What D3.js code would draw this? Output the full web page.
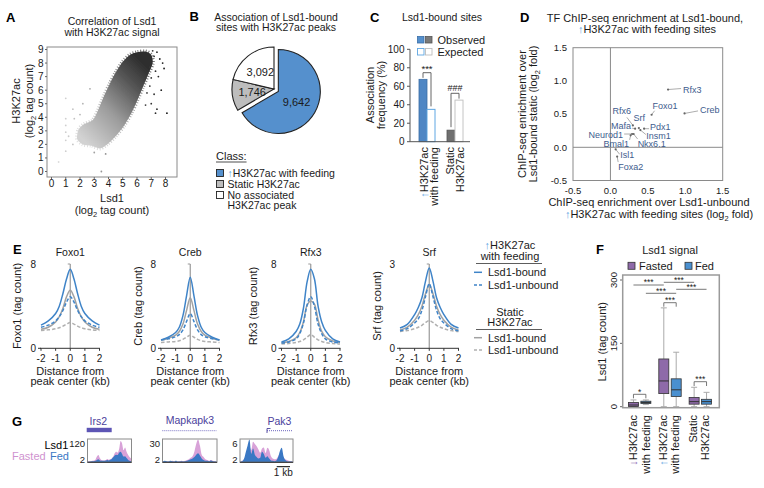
<!DOCTYPE html>
<html><head><meta charset="utf-8">
<script src="https://cdn.jsdelivr.net/npm/d3@7/dist/d3.min.js"></script>
<style>html,body{margin:0;padding:0;background:#fff;}</style>
</head><body>
<script>
// ================= DATA =================
// Panel A: outline of the dense point cloud (Lsd1 log2, H3K27ac log2) + sparse points
const cloudLsd1    = [1.8,1.9,2.3,2.9,3.3,3.7,4.1,4.5,5.0,5.5,6.0,6.6,7.0,7.1,6.8,6.4,6.0,5.6,5.1,4.5,3.9,3.4,2.8,2.2];
const cloudH3K27ac = [2.4,3.1,3.5,3.8,4.6,5.6,6.5,7.3,8.1,8.6,8.8,8.85,8.6,8.0,7.2,6.2,5.2,4.3,3.4,2.6,2.0,1.7,1.9,2.0];
const sparseLsd1    = [7.4,7.6,7.2,7.9,7.3,7.5,7.0,7.7,7.2,7.0,7.4,7.3,8.1,6.7,6.9,1.0,1.0,1.0,1.0,1.0,1.0,0.5,1.5,1.6,3.5,2.2,2.7,3.0,3.8,1.5,2.0,1.2,7.1,6.6,7.8,6.9];
const sparseH3K27ac = [8.8,8.3,8.5,7.6,7.4,7.0,6.9,6.0,5.7,5.0,4.6,4.3,4.3,5.8,6.3,5.4,3.9,3.4,2.9,2.3,1.5,0.7,4.6,3.9,0.0,5.0,6.1,1.4,1.3,2.0,4.2,2.6,8.9,4.9,8.0,7.7];
const aXTicks = [0,1,2,3,4,5,6,7,8];
const aYTicks = [0,1,2,3,4,5,6,7,8,9];

// Panel B
const pieClasses = ["H3K27ac with feeding","Static H3K27ac","No associated H3K27ac peak"];
const pieCounts  = [9642,1746,3092];
const pieLabels  = ["9,642","1,746","3,092"];

// Panel C
const cGroups   = ["up","static"];
const cObserved = [67.5,12.5];
const cExpected = [35,45];
const cTicks    = [0,20,40,60,80,100];

// Panel D
const tfNames    = ["Rfx3","Creb","Foxo1","Rfx6","Srf","Mafa","Pdx1","Insm1","Neurod1","Nkx6.1","Bmal1","Isl1","Foxa2"];
const tfUnbound  = [0.77,0.99,0.55,0.30,0.38,0.33,0.45,0.40,0.29,0.31,0.27,0.07,0.09];
const tfStatic   = [0.87,0.51,0.49,0.33,0.29,0.28,0.28,0.26,0.20,0.20,0.18,-0.03,-0.14];
const dTicks     = [-0.5,0,0.5,1,1.5];

// Panel E
const eDistanceKb = [-2,-1.5,-1,-0.75,-0.5,-0.25,0,0.25,0.5,0.75,1,1.5,2];
const eFactors = ["Foxo1","Creb","Rfx3","Srf"];
const eYMax    = [8,8,8,3];
const foxo1UpBound      = [2.2,2.6,3.3,4.0,5.2,6.6,7.5,6.6,5.2,4.0,3.3,2.6,2.2];
const foxo1UpUnbound    = [2.0,2.2,2.6,3.0,3.6,4.4,4.9,4.4,3.6,3.0,2.6,2.2,2.0];
const foxo1StaticBound  = [1.8,2.0,2.5,3.0,3.8,4.9,5.5,4.9,3.8,3.0,2.5,2.0,1.8];
const foxo1StaticUnbound= [1.7,1.75,1.85,1.95,2.1,2.3,2.45,2.3,2.1,1.95,1.85,1.75,1.7];
const crebUpBound       = [0.8,1.05,1.5,2.0,3.1,5.0,6.75,5.0,3.1,2.0,1.5,1.05,0.8];
const crebUpUnbound     = [0.8,0.9,1.1,1.3,1.75,2.55,3.3,2.55,1.75,1.3,1.1,0.9,0.8];
const crebStaticBound   = [0.75,0.95,1.25,1.6,2.3,3.6,4.8,3.6,2.3,1.6,1.25,0.95,0.75];
const crebStaticUnbound = [0.55,0.6,0.65,0.72,0.85,1.05,1.25,1.05,0.85,0.72,0.65,0.6,0.55];
const rfx3UpBound       = [0.6,0.9,1.6,2.3,3.8,6.3,7.5,6.6,4.0,2.5,1.7,0.9,0.6];
const rfx3UpUnbound     = [0.5,0.6,0.9,1.4,2.4,4.1,4.9,4.0,2.3,1.4,0.9,0.6,0.5];
const rfx3StaticBound   = [0.5,0.65,1.0,1.5,2.5,4.1,4.5,4.2,2.7,1.6,1.1,0.7,0.55];
const rfx3StaticUnbound = [0.4,0.45,0.55,0.65,0.8,1.05,1.3,1.05,0.8,0.65,0.55,0.45,0.4];
const srfUpBound        = [0.72,0.85,1.2,1.45,1.8,2.4,2.86,2.4,1.8,1.45,1.2,0.85,0.72];
const srfUpUnbound      = [0.62,0.7,0.9,1.05,1.35,1.85,2.3,1.85,1.35,1.05,0.9,0.7,0.62];
const srfStaticBound    = [0.65,0.75,1.0,1.2,1.5,1.95,2.26,1.95,1.5,1.2,1.0,0.75,0.65];
const srfStaticUnbound  = [0.6,0.63,0.7,0.75,0.82,0.92,0.98,0.92,0.82,0.75,0.7,0.63,0.6];
const eXTicks = [-2,-1,0,1,2];

// Panel F: [min, q1, median, q3, max]
const fGroups = ["down","up","static"];
const fFasted = [[0,0.5,4,10,16],[0,31,61,113,234],[0,6,12,22,46]];
const fFed    = [[5,7.5,10,13,16],[0,24,40,66,129],[0,6,12,17.5,34]];
const fTicks  = [0,150,300];

// Panel G: signal tracks (tag count)
const gGenes = ["Irs2","Mapkapk3","Pak3"];
const gMax   = [120,30,6];
const irs2Fasted = [4,5,6,8,10,14,30,38,22,12,10,10,12,18,14,16,20,30,48,56,52,70,112,98,64,78,56,40,28,20];
const irs2Fed    = [3,3,4,5,6,8,12,16,10,8,8,8,10,12,10,14,18,26,36,40,38,50,56,44,30,32,22,14,8,5];
const mapkFasted = [1,1,1,1.5,1,2,1.5,1,1,1.5,2,1.5,2,3,4,6,8,14,24,30,22,10,7,4,3,2,3,2,1.5,1];
const mapkFed    = [1,2,1.5,1,2,1.5,1,2,1,1,1.5,1,1.5,2,3,4,5,7,10,12,9,5,3,2,2,1.5,2.5,1.5,1,1];
const pak3Fasted = [0.3,0.4,0.8,1.5,2.8,4.0,3.2,5.4,4.8,4.2,3.4,2.5,3.6,3.9,2.4,3.8,3.2,1.6,1.0,0.8,0.9,1.6,2.2,1.8,1.2,0.8,0.6,0.4,0.3,0.3];
const pak3Fed    = [0.2,0.3,1.0,2.8,4.5,6.0,2.2,3.6,2.0,1.4,1.0,1.2,2.8,2.2,1.2,1.6,1.0,0.5,0.4,0.3,0.5,1.4,3.0,3.8,1.6,0.6,0.3,0.2,0.2,0.2];

// ================= DRAW =================
const FONT = "'Liberation Sans', Arial, Helvetica, sans-serif";
const BLUE = "#5590cd", LBLUE = "#5ea6e2", LINEBLUE = "#3f84c8", PURPLE = "#8e6aa9";
const svg = d3.select("body").append("svg").attr("width",764).attr("height",488).attr("font-family",FONT);
svg.append("rect").attr("width",764).attr("height",488).attr("fill","#fff");
const defs = svg.append("defs");

function text(g,x,y,str,o){o=o||{};const t=g.append("text").attr("x",x).attr("y",y)
  .attr("font-size",o.size||11).attr("fill",o.fill||"#1a1a1a").attr("text-anchor",o.anchor||"start");
  if(o.bold)t.attr("font-weight","bold");
  if(o.rot!=null)t.attr("transform",`rotate(${o.rot} ${x} ${y})`);
  if(o.dy)t.attr("dy",o.dy);
  if(str!=null)t.text(str);return t;}
function rich(g,x,y,parts,o){o=o||{};const t=text(g,x,y,null,o);const fs=o.size||11;let sh=false;
  parts.forEach(p=>{const s=t.append("tspan").text(p.t);if(p.fill)s.attr("fill",p.fill);
    if(p.sub){s.attr("font-size",fs*0.68).attr("dy",fs*0.28);sh=true;}
    else if(sh){s.attr("dy",-fs*0.28);sh=false;}});return t;}
function panelLetter(x,y,l){text(svg,x,y,l,{size:13,bold:true,fill:"#000"});}

// ---------- Panel A ----------
panelLetter(6,21.5,"A");
const gA = svg.append("g");
text(gA,112,25,"Correlation of Lsd1",{size:10.5,anchor:"middle"});
text(gA,112,35.5,"with H3K27ac signal",{size:10.5,anchor:"middle"});
const xA = d3.scaleLinear().domain([0,8]).range([51.5,165.5]);
const yA = d3.scaleLinear().domain([0,9]).range([171.5,49.5]);
const grad = defs.append("linearGradient").attr("id","cloudGrad").attr("gradientUnits","userSpaceOnUse")
  .attr("x1",xA(2)).attr("y1",yA(2.6)).attr("x2",xA(6.8)).attr("y2",yA(7.6));
[["0","#d2d2d2"],["0.4","#9c9c9c"],["0.75","#575757"],["1","#2e2e2e"]].forEach(s=>grad.append("stop").attr("offset",s[0]).attr("stop-color",s[1]));
defs.append("filter").attr("id","soft").append("feGaussianBlur").attr("stdDeviation",0.45);
const cloudPts = cloudLsd1.map((v,i)=>[v,cloudH3K27ac[i]]);
const cloudPath = d3.line().x(d=>xA(d[0])).y(d=>yA(d[1])).curve(d3.curveCardinalClosed.tension(0.2))(cloudPts);
gA.append("path").attr("d",cloudPath).attr("fill","none").attr("stroke","url(#cloudGrad)")
  .attr("stroke-width",4).attr("stroke-dasharray","0.9,1.7").attr("opacity",0.7);
gA.append("path").attr("d",cloudPath).attr("fill","url(#cloudGrad)").attr("filter","url(#soft)");
const shade = d3.scaleLinear().domain([1,4,7.5]).range(["#cfcfcf","#8a8a8a","#262626"]);
gA.selectAll(".sp").data(sparseLsd1.map((v,i)=>[v,sparseH3K27ac[i]])).enter().append("circle")
  .attr("cx",d=>xA(d[0])).attr("cy",d=>yA(d[1])).attr("r",0.9).attr("fill",d=>shade(d[0]));
gA.append("rect").attr("x",47).attr("y",47).attr("width",130).attr("height",130).attr("fill","none").attr("stroke","#8a8a8a").attr("stroke-width",1);
aXTicks.forEach(t=>{gA.append("line").attr("x1",xA(t)).attr("x2",xA(t)).attr("y1",177).attr("y2",179).attr("stroke","#666");
  text(gA,xA(t),186.5,t,{size:10,anchor:"middle"});});
aYTicks.forEach(t=>{gA.append("line").attr("x1",45).attr("x2",47).attr("y1",yA(t)).attr("y2",yA(t)).attr("stroke","#666");
  text(gA,43.5,yA(t),t,{size:10,anchor:"end",dy:"0.35em"});});
text(gA,112,202,"Lsd1",{size:11,anchor:"middle"});
rich(gA,112,214,[{t:"(log"},{t:"2",sub:true},{t:" tag count)"}],{size:11,anchor:"middle"});
text(gA,16,101,"H3K27ac",{size:11,anchor:"middle",rot:-90,dy:"0.35em"});
rich(gA,29,101,[{t:"(log"},{t:"2",sub:true},{t:" tag count)"}],{size:11,anchor:"middle",rot:-90,dy:"0.35em"});

// ---------- Panel B ----------
panelLetter(189.5,21,"B");
const gB = svg.append("g");
text(gB,276,21,"Association of Lsd1-bound",{size:10.5,anchor:"middle"});
text(gB,276,31,"sites with H3K27ac peaks",{size:10.5,anchor:"middle"});
const pieColors = [BLUE,"#bdbdbd","#ffffff"];
const pieExplode = [5,0,0];
const arcs = d3.pie().sort(null).value(d=>d)(pieCounts);
const arcB = d3.arc().innerRadius(0).outerRadius(42);
const cB = [274,89];
arcs.forEach((a,i)=>{const mid=(a.startAngle+a.endAngle)/2;
  const ox=cB[0]+pieExplode[i]*Math.sin(mid), oy=cB[1]-pieExplode[i]*Math.cos(mid);
  const g=gB.append("g").attr("transform",`translate(${ox},${oy})`);
  g.append("path").attr("d",arcB(a)).attr("fill",pieColors[i]).attr("stroke","#222").attr("stroke-width",1.1);
  const c=arcB.centroid(a);
  text(g,c[0]*(i===0?1.0:1.05),c[1],pieLabels[i],{size:11,anchor:"middle",dy:"0.35em"});
});
const classT = text(gB,216,160,"Class:",{size:11});
gB.append("line").attr("x1",216).attr("x2",216+classT.node().getComputedTextLength()).attr("y1",162).attr("y2",162).attr("stroke","#222").attr("stroke-width",0.8);
const legRowY = [173,184,195];
pieClasses.forEach((c,i)=>{
  gB.append("rect").attr("x",216.5).attr("y",legRowY[i]-3.5).attr("width",7).attr("height",7).attr("fill",pieColors[i]).attr("stroke","#222").attr("stroke-width",0.9);
  if(i===0) rich(gB,227.5,legRowY[i]+4,[{t:"↑",fill:LBLUE},{t:c}],{size:10.5});
  else if(i===1) text(gB,227.5,legRowY[i]+4,c,{size:10.5});
  else {text(gB,227.5,legRowY[i]+4,"No associated",{size:10.5});text(gB,227.5,legRowY[i]+14,"H3K27ac peak",{size:10.5});}
});

// ---------- Panel C ----------
panelLetter(370,22,"C");
const gC = svg.append("g");
text(gC,442,21,"Lsd1-bound sites",{size:10.5,anchor:"middle"});
const yC = d3.scaleLinear().domain([0,100]).range([141.7,49.3]);
const xC = d3.scaleBand().domain(cGroups).range([413,469]).padding(0.0);
gC.append("rect").attr("x",417.5).attr("y",36.5).attr("width",6.5).attr("height",6.5).attr("fill",BLUE).attr("stroke","#3a6fa8").attr("stroke-width",0.8);
gC.append("rect").attr("x",425.5).attr("y",36.5).attr("width",6.5).attr("height",6.5).attr("fill","#7a7a7a").attr("stroke","#555").attr("stroke-width",0.8);
text(gC,437.5,44,"Observed",{size:11});
gC.append("rect").attr("x",417.5).attr("y",48.5).attr("width",6.5).attr("height",6.5).attr("fill","#fff").attr("stroke",LBLUE).attr("stroke-width",0.9);
gC.append("rect").attr("x",425.5).attr("y",48.5).attr("width",6.5).attr("height",6.5).attr("fill","#fff").attr("stroke","#bdbdbd").attr("stroke-width",0.9);
text(gC,437.5,56,"Expected",{size:11});
const barW = 8;
cGroups.forEach((g,i)=>{
  const cx = xC(g)+xC.bandwidth()/2;
  gC.append("rect").attr("x",cx-barW).attr("y",yC(cObserved[i])).attr("width",barW).attr("height",yC(0)-yC(cObserved[i]))
    .attr("fill",i===0?"#4e86c4":"#6f6f6f").attr("stroke",i===0?"#3d6ea6":"#555").attr("stroke-width",0.8);
  gC.append("rect").attr("x",cx).attr("y",yC(cExpected[i])).attr("width",barW).attr("height",yC(0)-yC(cExpected[i]))
    .attr("fill","#fff").attr("stroke",i===0?LBLUE:"#c4c4c4").attr("stroke-width",1);
});
gC.append("line").attr("x1",410).attr("x2",410).attr("y1",yC(100)).attr("y2",yC(0)).attr("stroke","#555");
gC.append("line").attr("x1",410).attr("x2",470).attr("y1",yC(0)).attr("y2",yC(0)).attr("stroke","#555");
cTicks.forEach(t=>{gC.append("line").attr("x1",407).attr("x2",410).attr("y1",yC(t)).attr("y2",yC(t)).attr("stroke","#555");
  text(gC,404.5,yC(t),t,{size:10,anchor:"end",dy:"0.35em"});});
text(gC,370,95,"Association",{size:11,anchor:"middle",rot:-90,dy:"0.35em"});
text(gC,381,95,"frequency (%)",{size:11,anchor:"middle",rot:-90,dy:"0.35em"});
{const c0=xC("up")+xC.bandwidth()/2, c1=xC("static")+xC.bandwidth()/2;
 const br=(x1,x2,y,y1,y2,col)=>gC.append("path").attr("d",`M${x1},${y1}V${y}H${x2}V${y2}`).attr("fill","none").attr("stroke",col).attr("stroke-width",0.9);
 br(c0-4,c0+4,72.7,yC(cObserved[0])-1.5,yC(cExpected[0])-3,"#555");
 text(gC,c0,72.3,"***",{size:9.5,anchor:"middle"});
 br(c1-4,c1+4,93.3,yC(cObserved[1])-3,yC(cExpected[1])-1.5,"#555");
 text(gC,c1,91.3,"###",{size:9,anchor:"middle"});
 rich(gC,c0-3,147,[{t:"↑",fill:LBLUE},{t:"H3K27ac"}],{size:11,anchor:"end",rot:-90,dy:"0.35em"});
 text(gC,c0+7,147,"with feeding",{size:11,anchor:"end",rot:-90,dy:"0.35em"});
 text(gC,c1-5,147,"Static",{size:11,anchor:"end",rot:-90,dy:"0.35em"});
 text(gC,c1+5,147,"H3K27ac",{size:11,anchor:"end",rot:-90,dy:"0.35em"});
}

// ---------- Panel D ----------
panelLetter(520,22,"D");
const gD = svg.append("g");
text(gD,645,21.5,"TF ChIP-seq enrichment at Lsd1-bound,",{size:11,anchor:"middle"});
rich(gD,647,32.5,[{t:"↑",fill:LBLUE},{t:"H3K27ac with feeding sites"}],{size:11,anchor:"middle"});
const xD = d3.scaleLinear().domain([-0.5,1.5]).range([573,722.7]);
const yD = d3.scaleLinear().domain([-0.5,1.5]).range([180.5,47.7]);
gD.append("rect").attr("x",xD(-0.5)).attr("y",yD(1.5)).attr("width",xD(1.5)-xD(-0.5)).attr("height",yD(-0.5)-yD(1.5)).attr("fill","none").attr("stroke","#8a8a8a");
gD.append("line").attr("x1",xD(0)).attr("x2",xD(0)).attr("y1",yD(1.5)).attr("y2",yD(-0.5)).attr("stroke","#8a8a8a");
gD.append("line").attr("x1",xD(-0.5)).attr("x2",xD(1.5)).attr("y1",yD(0)).attr("y2",yD(0)).attr("stroke","#8a8a8a");
dTicks.forEach(t=>{text(gD,xD(t),194,t.toFixed(1),{size:9.5,anchor:"middle"});
  text(gD,567,yD(t),t.toFixed(1),{size:9.5,anchor:"end",dy:"0.35em"});});
text(gD,649,206,"ChIP-seq enrichment over Lsd1-unbound",{size:11,anchor:"middle"});
rich(gD,659,217.5,[{t:"↑",fill:LBLUE},{t:"H3K27ac with feeding sites (log"},{t:"2",sub:true},{t:" fold)"}],{size:11,anchor:"middle"});
text(gD,521.7,114,"ChIP-seq enrichment over",{size:11,anchor:"middle",rot:-90,dy:"0.35em"});
rich(gD,533.3,114,[{t:"Lsd1-bound static (log"},{t:"2",sub:true},{t:" fold)"}],{size:11,anchor:"middle",rot:-90,dy:"0.35em"});
const tfLabelPos = {Rfx3:["start",15,3.5,13,-1],Creb:["start",15.5,0,13.5,-2.5],Foxo1:["middle",13.5,-6,3,-4],
  Rfx6:["middle",-11,-11.5,-6,-8],Srf:["middle",0.5,-7,0,0],Mafa:["end",-4,0.5,-3,-0.5],Pdx1:["start",6,1.5,5,0],
  Insm1:["start",6,8.5,5.5,4.5],Neurod1:["end",-9,3.5,-8,0],"Nkx6.1":["start",4,13,4,5],Bmal1:["end",-1.5,12,-1,4.5],
  Isl1:["start",4.5,9,4,5],Foxa2:["start",1,13,1,5.5]};
tfNames.forEach((n,i)=>{const px=xD(tfUnbound[i]),py=yD(tfStatic[i]);const p=tfLabelPos[n];
  if(p[3]||p[4]) gD.append("line").attr("x1",px).attr("y1",py).attr("x2",px+p[3]).attr("y2",py+p[4]).attr("stroke","#8a8a8a").attr("stroke-width",0.7);
  gD.append("circle").attr("cx",px).attr("cy",py).attr("r",1.1).attr("fill","#666");
  text(gD,px+p[1],py+p[2],n,{size:9,anchor:p[0],fill:"#3e5c8e"});
});

// ---------- Panel E ----------
panelLetter(13,253.5,"E");
const gE = svg.append("g");
const eSeries = [[foxo1StaticUnbound,foxo1StaticBound,foxo1UpUnbound,foxo1UpBound],
                 [crebStaticUnbound,crebStaticBound,crebUpUnbound,crebUpBound],
                 [rfx3StaticUnbound,rfx3StaticBound,rfx3UpUnbound,rfx3UpBound],
                 [srfStaticUnbound,srfStaticBound,srfUpUnbound,srfUpBound]];
const eStyles = [{c:"#b0b0b0",d:"3.5,2"},{c:"#a2a2a2",d:null},{c:LINEBLUE,d:"3.5,2"},{c:LINEBLUE,d:null}];
const eX0 = [41,161,281.5,400], eYT = [17.3,137.7,253.3,377.3];
eFactors.forEach((f,k)=>{
  const x = d3.scaleLinear().domain([-2,2]).range([eX0[k],eX0[k]+58.5]);
  const y = d3.scaleLinear().domain([0,eYMax[k]]).range([348.3,264]);
  text(gE,x(0),255.5,f,{size:10.5,anchor:"middle"});
  gE.append("line").attr("x1",x(0)).attr("x2",x(0)).attr("y1",y(0)).attr("y2",y(eYMax[k])).attr("stroke","#999").attr("stroke-width",1.2);
  gE.append("line").attr("x1",x(0)-2.5).attr("x2",x(0)).attr("y1",y(eYMax[k])).attr("y2",y(eYMax[k])).attr("stroke","#999").attr("stroke-width",1);
  eSeries[k].forEach((s,j)=>{
    gE.append("path").attr("d",d3.line().x((d,i)=>x(eDistanceKb[i])).y(d=>y(d)).curve(d3.curveCatmullRom)(s))
      .attr("fill","none").attr("stroke",eStyles[j].c).attr("stroke-width",1.5).attr("stroke-dasharray",eStyles[j].d);
  });
  gE.append("line").attr("x1",x(-2)-1).attr("x2",x(2)+0.5).attr("y1",y(0)).attr("y2",y(0)).attr("stroke","#333").attr("stroke-width",1);
  gE.append("line").attr("x1",x(-2)-3).attr("x2",x(-2)).attr("y1",y(0)).attr("y2",y(0)).attr("stroke","#333");
  eXTicks.forEach(t=>{gE.append("line").attr("x1",x(t)).attr("x2",x(t)).attr("y1",y(0)).attr("y2",y(0)+2.5).attr("stroke","#333");
    text(gE,x(t),362,t,{size:10,anchor:"middle"});});
  text(gE,x(-2)-5,y(eYMax[k]),eYMax[k],{size:10,anchor:"end",dy:"0.35em"});
  text(gE,x(-2)-5,y(0),0,{size:10,anchor:"end",dy:"0.35em"});
  text(gE,x(0),374.5,"Distance from",{size:11,anchor:"middle"});
  text(gE,x(0),385,"peak center (kb)",{size:11,anchor:"middle"});
  text(gE,eYT[k],306,f+" (tag count)",{size:11,anchor:"middle",rot:-90,dy:"0.35em"});
});
rich(gE,510,249,[{t:"↑",fill:LBLUE},{t:"H3K27ac"}],{size:11,anchor:"middle"});
text(gE,510,260,"with feeding",{size:11,anchor:"middle"});
gE.append("line").attr("x1",476).attr("x2",542).attr("y1",263.5).attr("y2",263.5).attr("stroke","#333").attr("stroke-width",0.8);
text(gE,510,315.5,"Static",{size:11,anchor:"middle"});
text(gE,510,326,"H3K27ac",{size:11,anchor:"middle"});
gE.append("line").attr("x1",476).attr("x2",542).attr("y1",329.5).attr("y2",329.5).attr("stroke","#333").attr("stroke-width",0.8);
[[272.3,LINEBLUE,null,"Lsd1-bound"],[285,LINEBLUE,"3,2","Lsd1-unbound"],[337.7,"#a2a2a2",null,"Lsd1-bound"],[350,"#b0b0b0","3,2","Lsd1-unbound"]].forEach(r=>{
  gE.append("line").attr("x1",474).attr("x2",482).attr("y1",r[0]).attr("y2",r[0]).attr("stroke",r[1]).attr("stroke-width",1.5).attr("stroke-dasharray",r[2]);
  text(gE,488,r[0]+4,r[3],{size:11});
});

// ---------- Panel F ----------
panelLetter(596,254,"F");
const gF = svg.append("g");
text(gF,670,254,"Lsd1 signal",{size:11,anchor:"middle"});
gF.append("rect").attr("x",628).attr("y",262.3).attr("width",7).attr("height",7).attr("fill",PURPLE).attr("stroke","#333").attr("stroke-width",0.8);
text(gF,639,269.5,"Fasted",{size:11});
gF.append("rect").attr("x",685).attr("y",262.3).attr("width",7).attr("height",7).attr("fill","#4a90d0").attr("stroke","#333").attr("stroke-width",0.8);
text(gF,695,269.5,"Fed",{size:11});
const yF = d3.scaleLinear().domain([0,300]).range([406.7,280]);
const xF = d3.scaleBand().domain(fGroups).range([624.5,715.5]);
gF.append("rect").attr("x",622.7).attr("y",275).attr("width",96.6).attr("height",132.7).attr("fill","none").attr("stroke","#9a9a9a").attr("stroke-width",1.5);
fTicks.forEach(t=>{gF.append("line").attr("x1",620).attr("x2",622).attr("y1",yF(t)).attr("y2",yF(t)).attr("stroke","#666");
  text(gF,617,yF(t),t,{size:9.5,anchor:"middle",rot:-90});});
text(gF,601.7,341.7,"Lsd1 (tag count)",{size:11,anchor:"middle",rot:-90,dy:"0.35em"});
const boxC = (g,s)=>xF(g)+xF.bandwidth()/2+(s===0?-6.2:6.2);
function drawBox(cx,st,fill){
  gF.append("line").attr("x1",cx).attr("x2",cx).attr("y1",yF(st[4])).attr("y2",yF(st[3])).attr("stroke","#aaa");
  gF.append("line").attr("x1",cx).attr("x2",cx).attr("y1",yF(st[1])).attr("y2",yF(st[0])).attr("stroke","#aaa");
  [st[0],st[4]].forEach(v=>gF.append("line").attr("x1",cx-3).attr("x2",cx+3).attr("y1",yF(v)).attr("y2",yF(v)).attr("stroke","#aaa"));
  gF.append("rect").attr("x",cx-5).attr("y",yF(st[3])).attr("width",10).attr("height",Math.max(1,yF(st[1])-yF(st[3]))).attr("fill",fill).attr("stroke","#333").attr("stroke-width",0.8);
  gF.append("line").attr("x1",cx-5).attr("x2",cx+5).attr("y1",yF(st[2])).attr("y2",yF(st[2])).attr("stroke","#333").attr("stroke-width",1);
}
fGroups.forEach((g,i)=>{drawBox(boxC(g,0),fFasted[i],PURPLE);drawBox(boxC(g,1),fFed[i],"#4a90d0");});
{
 const leg=(x1,x2,y,l1,l2,lab)=>{gF.append("path").attr("d",`M${x1},${l1}V${y}H${x2}V${l2}`).attr("fill","none").attr("stroke","#555").attr("stroke-width",0.8);
   text(gF,(x1+x2)/2,y+0.3,lab,{size:8.5,anchor:"middle"});};
 leg(boxC("down",0),boxC("down",1),394.3,398.3,398.3,"*");
 leg(boxC("up",0),boxC("up",1),302.7,306.7,306.7,"***");
 leg(boxC("static",0),boxC("static",1),381.7,386,386,"***");
 const flat=(x1,x2,y)=>{gF.append("line").attr("x1",x1).attr("x2",x2).attr("y1",y).attr("y2",y).attr("stroke","#555").attr("stroke-width",0.8);
   text(gF,(x1+x2)/2,y+0.3,"***",{size:8.5,anchor:"middle"});};
 flat(boxC("down",0),boxC("up",0),285);
 flat(boxC("up",0),boxC("static",0),282.3);
 flat(boxC("down",1),boxC("up",1),293.3);
 flat(boxC("up",1),boxC("static",1),289.3);
 const gc=g=>xF(g)+xF.bandwidth()/2;
 rich(gF,gc("down")-6.5,415,[{t:"↓",fill:"#8a5fb0"},{t:"H3K27ac"}],{size:11,anchor:"end",rot:-90,dy:"0.35em"});
 text(gF,gc("down")+6.5,415,"with feeding",{size:11,anchor:"end",rot:-90,dy:"0.35em"});
 rich(gF,gc("up")-6.5,415,[{t:"↑",fill:LBLUE},{t:"H3K27ac"}],{size:11,anchor:"end",rot:-90,dy:"0.35em"});
 text(gF,gc("up")+5,415,"with feeding",{size:11,anchor:"end",rot:-90,dy:"0.35em"});
 text(gF,gc("static")-7,415,"Static",{size:11,anchor:"end",rot:-90,dy:"0.35em"});
 text(gF,gc("static")+5,415,"H3K27ac",{size:11,anchor:"end",rot:-90,dy:"0.35em"});
}

// ---------- Panel G ----------
panelLetter(12,425.5,"G");
const gG = svg.append("g");
const gFrames = [[87.5,131.5],[162.5,217],[240,293]];
const gTracks = [[irs2Fasted,irs2Fed],[mapkFasted,mapkFed],[pak3Fasted,pak3Fed]];
const GENECOL = "#4b419c";
gGenes.forEach((name,k)=>{
  const fr = gFrames[k];
  const x = d3.scaleLinear().domain([0,gTracks[k][0].length-1]).range([fr[0]+0.5,fr[1]-0.5]);
  const y = d3.scaleLinear().domain([0,gMax[k]]).range([462.3,439.5]);
  const area = d3.area().x((d,i)=>x(i)).y0(462.3).y1(d=>y(d)).curve(d3.curveMonotoneX);
  gG.append("path").attr("d",area(gTracks[k][0])).attr("fill","#d8a2d8");
  gG.append("path").attr("d",area(gTracks[k][1])).attr("fill","#3a78c4");
  gG.append("rect").attr("x",fr[0]).attr("y",439).attr("width",fr[1]-fr[0]).attr("height",23.3).attr("fill","none").attr("stroke","#8a8a8a").attr("stroke-width",1);
  gG.append("line").attr("x1",fr[0]).attr("x2",fr[1]).attr("y1",462.3).attr("y2",462.3).attr("stroke","#333").attr("stroke-width",1);
  text(gG,fr[0]-2.5,446.8,gMax[k],{size:9.5,anchor:"end"});
  text(gG,fr[0]-2.5,462.8,"2",{size:9.5,anchor:"end"});
});
text(gG,98.3,425,"Irs2",{size:10.5,anchor:"middle",fill:GENECOL});
text(gG,190,424,"Mapkapk3",{size:10.5,anchor:"middle",fill:GENECOL});
text(gG,279.5,424.5,"Pak3",{size:10.5,anchor:"middle",fill:GENECOL});
gG.append("rect").attr("x",86.7).attr("y",427.8).attr("width",25).attr("height",4.4).attr("fill","#5d55b5");
gG.append("line").attr("x1",162.3).attr("x2",216.7).attr("y1",430.7).attr("y2",430.7).attr("stroke","#7b74c6").attr("stroke-width",1).attr("stroke-dasharray","1,1");
gG.append("line").attr("x1",267).attr("x2",292.7).attr("y1",430.7).attr("y2",430.7).attr("stroke","#6c64bd").attr("stroke-width",1).attr("stroke-dasharray","1,1");
gG.append("path").attr("d","M267,433V428.5H270.5").attr("fill","none").attr("stroke","#4b419c").attr("stroke-width",0.9);
text(gG,68.3,449,"Lsd1",{size:11,anchor:"end",fill:"#000"});
text(gG,12,460,"Fasted",{size:11,fill:"#cf92cf"});
text(gG,50,460,"Fed",{size:11,fill:"#3a78c4"});
gG.append("line").attr("x1",276.7).attr("x2",290).attr("y1",466.7).attr("y2",466.7).attr("stroke","#000").attr("stroke-width",1);
text(gG,283.3,476,"1 kb",{size:10,anchor:"middle"});
</script>
</body></html>
